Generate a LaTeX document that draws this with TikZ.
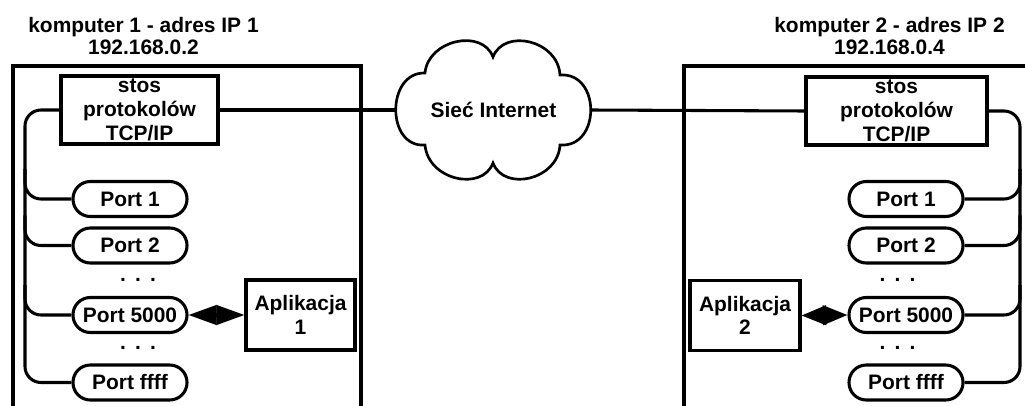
\documentclass[tikz,border=0pt]{standalone}
\usepackage{fontspec}
\setmainfont{Liberation Sans}
\usetikzlibrary{arrows.meta,calc}

\begin{document}
\begin{tikzpicture}[x=0.75pt,y=-0.75pt,
  every node/.style={font=\fontsize{15.7}{17.8}\selectfont\bfseries, inner sep=0pt},
  ln/.style={line width=2.3pt},
  title/.style={align=center, font=\fontsize{15.7}{16.5}\selectfont\bfseries},
  box/.style={draw, line width=2.3pt, minimum height=51pt, align=center},
  port/.style={draw, line width=2.3pt, rounded corners=13pt, minimum width=85.5pt, minimum height=26.25pt},
  bus/.style={line width=2.3pt, rounded corners=12pt},
  biarrow/.style={line width=2.3pt, {Triangle[length=21pt,width=14.5pt]}-{Triangle[length=21pt,width=14.5pt]}},
  biarrowshort/.style={line width=2.3pt, {Triangle[length=18.5pt,width=14.5pt]}-{Triangle[length=18.5pt,width=14.5pt]}}
]
\useasboundingbox (0,0) rectangle (1025,406);
\fill[white] (0,0) rectangle (1025,406);
\clip (0,0) rectangle (1025,406);

% host frames (open at the bottom)
\draw[ln] (13,420) -- (13,66) -- (361,66) -- (361,420);
\draw[ln] (684,420) -- (684,66) -- (1040,66);

% titles
\node[title] (t1) at (143.5,36.4) {komputer 1 - adres IP 1\\192.168.0.2};
\node[title] (t2) at (889.5,36.4) {komputer 2 - adres IP 2\\192.168.0.4};

% protocol stacks
\node[box, minimum width=117.75pt] (s1) at (139.5,110) {stos\\protokolów\\TCP/IP};
\node[box, minimum width=135.75pt] (s2) at (896.5,111) {stos\\protokolów\\TCP/IP};

% internet cloud
\node[minimum width=146.25pt, minimum height=102pt] (cloud) at (493.5,110) {Sieć Internet};
\draw[line width=2pt] (425,73) .. controls (428,40) and (482,28) .. (493,57)
  .. controls (504,28) and (558,40) .. (560,75)
  .. controls (601,72) and (601,148) .. (560,145)
  .. controls (558,180) and (504,192) .. (493,163)
  .. controls (482,192) and (428,180) .. (425,145)
  .. controls (386,148) and (386,72) .. cycle;
\draw[ln] (s1.east) -- (cloud.west);
\draw[ln] (cloud.east) -- (s2.west);

% ports of host 1
\node[port] (p1) at (130,199) {Port 1};
\node[port] (p2) at (130,245.5) {Port 2};
\node (d1) at (138,279.5) {.\kern6.9pt.\kern6.9pt.};
\node[port] (p5) at (130,315) {Port 5000};
\node (d2) at (138,347.5) {.\kern6.9pt.\kern6.9pt.};
\node[port] (pf) at (130,382.5) {Port ffff};

% ports of host 2
\node[port] (q1) at (906,199) {Port 1};
\node[port] (q2) at (906,245.5) {Port 2};
\node (e1) at (897.5,279.5) {.\kern6.9pt.\kern6.9pt.};
\node[port] (q5) at (906,315) {Port 5000};
\node (e2) at (897.5,347.5) {.\kern6.9pt.\kern6.9pt.};
\node[port] (qf) at (906,382.5) {Port ffff};

% applications
\node[box, minimum width=81.75pt, minimum height=52.5pt] (a1) at (300.5,315) {Aplikacja\\1};
\node[box, minimum width=82.5pt, minimum height=53pt] (a2) at (745,315.5) {Aplikacja\\2};

% internal buses
\coordinate (bus1) at (25,0);
\coordinate (bus2) at (1020,0);
\draw[bus] (s1.west) -| (bus1 |- pf.west) -- (pf.west);
\draw[bus] ($(bus1 |- p1.west)+(0,-30)$) |- (p1.west);
\draw[bus] ($(bus1 |- p2.west)+(0,-30)$) |- (p2.west);
\draw[bus] ($(bus1 |- p5.west)+(0,-30)$) |- (p5.west);
\draw[bus] (s2.east) -| (bus2 |- qf.east) -- (qf.east);
\draw[bus] ($(bus2 |- q1.east)+(0,-30)$) |- (q1.east);
\draw[bus] ($(bus2 |- q2.east)+(0,-30)$) |- (q2.east);
\draw[bus] ($(bus2 |- q5.east)+(0,-30)$) |- (q5.east);

% application links
\draw[biarrow] (p5.east) -- (a1.west);
\draw[biarrowshort] (a2.east) -- (q5.west);
\end{tikzpicture}
\end{document}
